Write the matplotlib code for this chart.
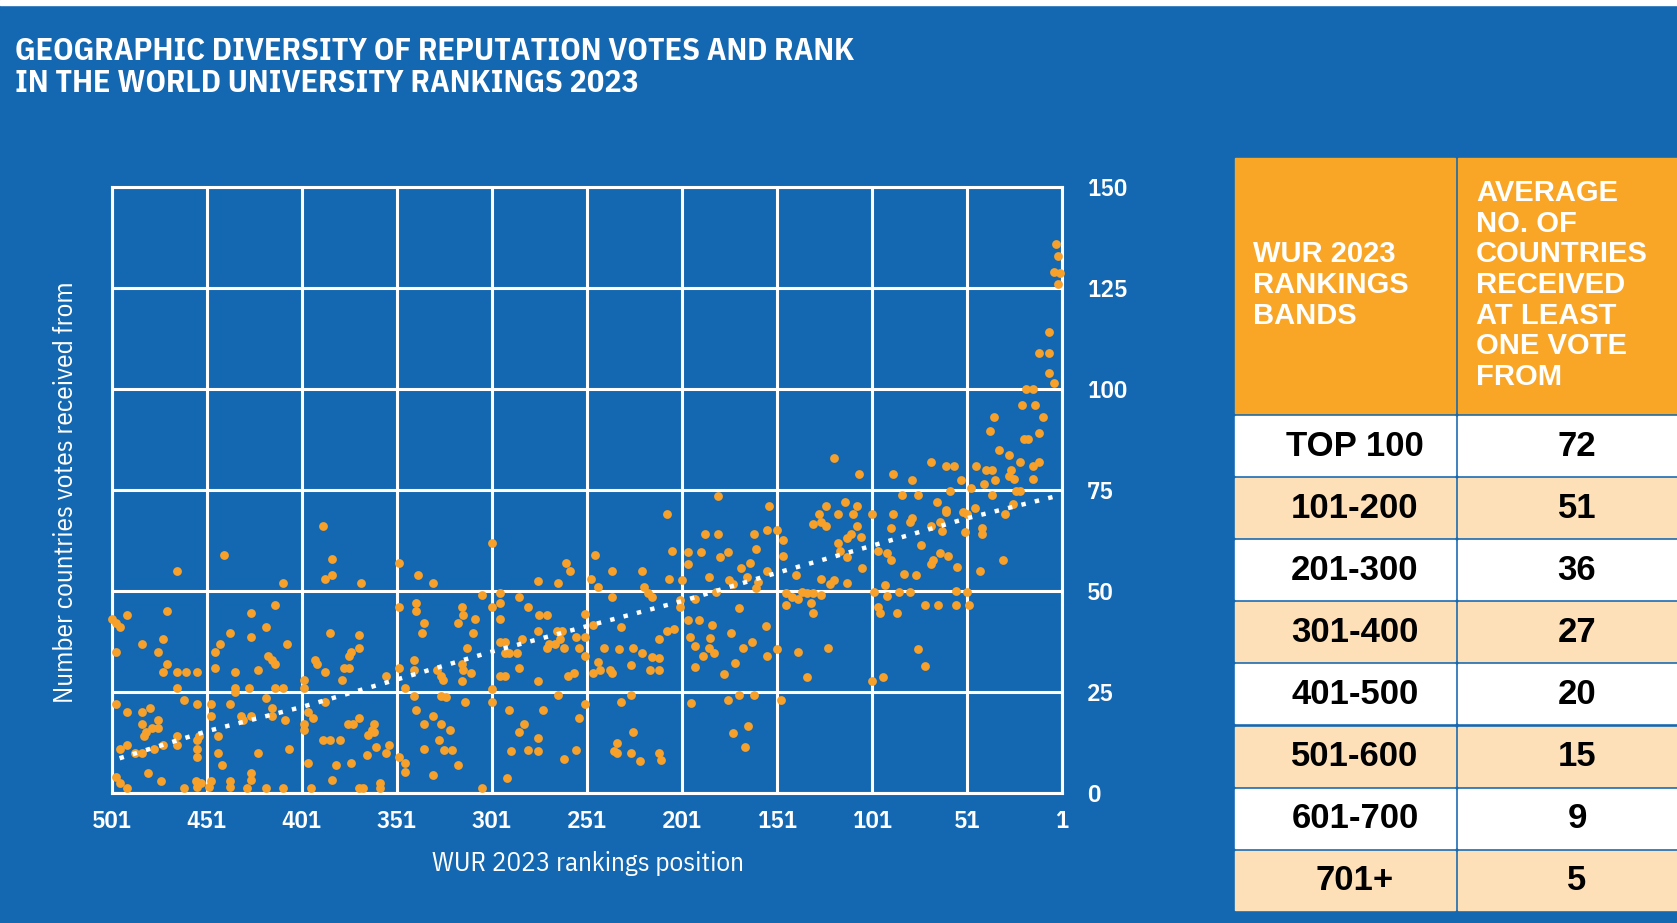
import matplotlib
matplotlib.use('Agg')
import matplotlib.pyplot as plt
from matplotlib import font_manager
from matplotlib.patches import Rectangle

W, H = 1677, 923
BLUE = '#1468b1'
DOT = '#f7a12a'
HEAD = '#f9a626'
PEACH = '#fde0b8'

names = {f.name for f in font_manager.fontManager.ttflist}
NARROW = 'IBM Plex Sans Condensed' if 'IBM Plex Sans Condensed' in names else 'DejaVu Sans'
BOLD = 'Liberation Sans' if 'Liberation Sans' in names else 'DejaVu Sans'

# --- data (rank position, number of countries) ---
rank = [
    467, 442, 411, 501, 499, 497, 493, 472, 485, 474, 477, 499, 472, 474, 467, 462, 456, 467, 463, 456,
    499, 493, 485, 481, 485, 483, 484, 480, 477, 477, 493, 497, 489, 485, 479, 474, 467, 467, 456, 456,
    456, 455, 482, 475, 499, 497, 493, 463, 457, 454, 456, 449, 450, 449, 449, 445, 445, 443, 439, 439,
    439, 436, 436, 436, 433, 432, 428, 429, 428, 428, 430, 424, 424, 420, 420, 417, 417, 419, 417, 415,
    415, 428, 428, 439, 444, 447, 447, 411, 415, 410, 420, 411, 409, 408,
    390, 385, 385, 389, 370, 350, 340, 332, 306, 350, 341, 341, 337, 338, 386, 371, 371, 375, 376, 394,
    393, 379, 376, 389, 380, 357, 350, 342, 342, 347, 342, 330, 328, 327, 317, 316, 319, 310, 311, 314,
    317, 316, 312, 317, 328, 325, 315, 400, 400, 389, 398, 395, 400, 400, 371, 377, 374, 363, 363, 366,
    364, 390, 386, 381, 362, 355, 357, 367, 350, 347, 347, 398, 383, 375, 385, 396, 371, 369, 360, 360,
    341, 337, 332, 328, 323, 329, 326, 322, 337, 319, 332, 306,
    301, 209, 206, 247, 262, 260, 238, 222, 277, 266, 249, 245, 208, 297, 297, 287, 282, 301, 297, 238,
    221, 219, 217, 276, 272, 252, 248, 252, 277, 267, 264, 265, 257, 271, 268, 272, 263, 297, 294, 292,
    288, 294, 285, 255, 252, 242, 234, 233, 227, 222, 217, 213, 213, 209, 213, 205, 228, 245, 244, 239,
    238, 248, 218, 287, 297, 294, 258, 261, 277, 301, 301, 266, 252, 255, 228, 233, 292, 274, 284, 287,
    277, 277, 282, 291, 257, 263, 227, 235, 237, 235, 228, 223, 213, 212, 293,
    121, 108, 182, 155, 125, 115, 109, 119, 111, 129, 128, 132, 125, 109, 189, 182, 163, 156, 151, 148,
    162, 198, 191, 181, 177, 148, 119, 114, 112, 107, 118, 114, 106, 198, 165, 170, 167, 156, 161, 162,
    176, 174, 187, 201, 141, 128, 123, 121, 114, 183, 146, 143, 138, 135, 132, 146, 140, 133, 132, 128,
    202, 194, 202, 171, 198, 192, 185, 157, 197, 194, 186, 187, 175, 164, 169, 190, 184, 173, 156, 151,
    140, 124, 194, 179, 135, 196, 177, 171, 163, 149, 166, 174, 168,
    4, 3, 5, 2, 3, 8, 13, 8, 8, 5, 20, 16, 22, 15, 11, 37, 39, 21, 19, 13,
    34, 29, 23, 16, 13, 70, 62, 58, 46, 41, 38, 28, 29, 26, 36, 42, 16, 54, 49, 90,
    80, 60, 25, 23, 85, 77, 38, 67, 62, 31, 27, 53, 51, 47, 43, 43, 52, 101, 90, 80,
    81, 91, 70, 65, 64, 62, 75, 98, 93, 91, 65, 61, 70, 69, 56, 84, 78, 44, 32, 100,
    94, 93, 87, 81, 57, 51, 98, 97, 88, 73, 66, 57, 50, 77, 73, 101, 95,
]
countries = [
    55, 59, 52, 43, 42, 41, 44, 45, 37, 38, 35, 35, 32, 30, 30, 30, 30, 26, 23, 22,
    22, 20, 20, 21, 17, 15, 14, 16, 18, 16, 12, 11, 10, 10, 11, 12, 14, 12, 13, 11,
    9, 14, 5, 3, 4, 2.5, 1.2, 1.2, 3, 2.5, 1.6, 3, 1.6, 22, 19, 14, 10, 7, 22, 3,
    1.6, 30, 26, 25, 19, 18, 19, 26, 5, 3.3, 1.2, 30.5, 10, 41, 23.5, 21, 19, 34, 33, 32,
    46.5, 44.6, 38.7, 39.5, 37, 35, 31, 26, 26, 18, 1.2, 1.2, 37, 11,
    66, 58, 54, 53, 52, 57, 54, 52, 49, 46, 47, 45, 42, 39.5, 39.5, 39, 36, 35, 34, 33,
    32, 31, 31, 30, 28, 29, 31, 33, 30.5, 26, 24, 30.5, 29, 28, 46, 44, 42, 43, 39.5, 36,
    32, 30.5, 29.6, 27.6, 24, 23.7, 22.6, 28, 26, 22.6, 20, 18.5, 17, 15.6, 18.5, 17, 17, 17, 15, 14.4,
    15.6, 13, 13, 13, 11.5, 12, 10, 9.5, 9, 7.4, 5.3, 7.4, 7, 7.4, 3.3, 1.2, 1.2, 1.2, 2.5, 1.2,
    20.6, 17, 19, 17, 15.6, 13, 10.7, 10.7, 11, 7, 4.5, 1.2,
    62, 69, 60, 59, 57, 55, 55, 55, 52.5, 52, 53, 51, 53, 49.4, 47, 48.6, 46, 46, 43, 48.6,
    51, 49.4, 48.6, 44, 44, 44.4, 41.6, 38.7, 40, 40, 40, 38, 38.7, 37, 37, 36, 36, 37.4, 37.4, 34.6,
    34.6, 34.6, 38, 36, 34, 36, 35.6, 41, 36, 34.6, 33.7, 33.3, 30.5, 40, 38, 40.7, 31.7, 32.5, 30.5, 30.5,
    29.6, 29.6, 30.5, 31, 29, 29, 29.6, 29, 27.6, 25.7, 22.6, 24.3, 22, 18.5, 24.3, 22.6, 20.6, 20.6, 17, 15,
    13.6, 10.3, 10.7, 10.3, 10.7, 8.4, 15, 12.3, 10.3, 10, 10, 8, 10, 8.2, 3.7,
    83, 79, 73.5, 71, 71, 72, 71, 69, 69, 69, 67, 66.6, 66, 66, 64, 64, 64, 65, 65, 62.6,
    60.5, 59.7, 59.7, 58.5, 59.7, 58.6, 62, 63, 64, 63.4, 60, 58.5, 55.6, 56.7, 57, 55.6, 53.5, 55, 52.3, 50.7,
    52.7, 51.7, 53.4, 52.7, 54, 53, 51.7, 52.7, 52, 49.8, 49.4, 48.6, 49.8, 49.4, 49.4, 46.5, 48, 47, 44.5, 49,
    47.8, 48, 46, 45.7, 42.8, 42.8, 41.6, 41.4, 38.7, 36.4, 38.3, 36, 39.7, 37.5, 36, 34, 34.6, 32.3, 33.8, 35.6,
    34.8, 35.8, 31.3, 29.5, 28.7, 22.4, 23, 24.3, 24.3, 23, 16.5, 14.8, 11.5,
    136, 133, 129, 128.6, 126, 114, 109, 109, 104, 101.4, 100, 100, 96, 96, 93, 93, 89.6, 87.7, 87.7, 89,
    85, 83.6, 82, 81, 82, 82, 81, 81, 81, 80, 80, 80, 78.5, 77.8, 77.5, 76.6, 77.7, 77.5, 75.4, 79,
    77.5, 74.7, 74.7, 74.7, 73.8, 73.8, 73.8, 72, 70, 69, 71.5, 69.6, 69, 70.6, 65.5, 64, 64.5, 69, 69, 68,
    67, 65.5, 66, 67, 64.8, 69.6, 61.5, 60, 59.4, 57.6, 59.4, 58.7, 56.6, 57.6, 56, 54.3, 54, 55, 57.6, 49.7,
    51.5, 48.7, 49.7, 49.7, 50, 49.7, 46, 44.6, 44.6, 46.6, 46.6, 46.6, 46.6, 35.7, 31.4, 27.7, 28.8,
]

trend_rank = [497, 451, 401, 351, 301, 251, 201, 151, 101, 51, 3]
trend_val = [8.6, 15.3, 21.3, 28.1, 35.0, 41.3, 47.5, 54.5, 61.2, 68.0, 73.6]

x_ticks = [501, 451, 401, 351, 301, 251, 201, 151, 101, 51, 1]
y_ticks = [0, 25, 50, 75, 100, 125, 150]

bands = ['TOP 100', '101-200', '201-300', '301-400', '401-500', '501-600', '601-700', '701+']
avg_countries = [72, 51, 36, 27, 20, 15, 9, 5]

title_lines = ['GEOGRAPHIC DIVERSITY OF REPUTATION VOTES AND RANK',
               'IN THE WORLD UNIVERSITY RANKINGS 2023']
head_left = 'WUR 2023\nRANKINGS\nBANDS'
head_right = 'AVERAGE\nNO. OF\nCOUNTRIES\nRECEIVED\nAT LEAST\nONE VOTE\nFROM'

fig = plt.figure(figsize=(W / 100, H / 100), dpi=100, facecolor=BLUE)

# scatter chart
ax = fig.add_axes([112 / W, 1 - 793 / H, 950 / W, 606 / H])
ax.set_facecolor(BLUE)
ax.scatter(rank, countries, s=40, color=DOT, linewidths=0, clip_on=False, zorder=3)
ax.plot(trend_rank, trend_val, color='white', lw=3.2, linestyle=(0, (1, 2.1)),
        dash_capstyle='butt', zorder=4)
ax.set_xlim(501, 1)
ax.set_ylim(0, 150)
ax.set_xticks(x_ticks)
ax.set_yticks(y_ticks)
ax.grid(True, color='white', lw=2.2)
ax.set_axisbelow(True)
for sp in ax.spines.values():
    sp.set_color('white')
    sp.set_linewidth(2.2)
ax.yaxis.tick_right()
ax.tick_params(length=0, colors='white', labelsize=18)
ax.tick_params(axis='x', pad=12)
ax.tick_params(axis='y', pad=18)
for lab in ax.get_xticklabels() + ax.get_yticklabels():
    lab.set_fontfamily(NARROW)
    lab.set_fontweight('semibold')

# overlay in pixel coordinates for texts and table
ov = fig.add_axes([0, 0, 1, 1])
ov.set_xlim(0, W)
ov.set_ylim(H, 0)
ov.axis('off')
ov.add_patch(Rectangle((0, 0), W, 5, color='white'))

for line, ty in zip(title_lines, [51, 83]):
    ov.text(15, ty, line, color='white', fontsize=23, fontweight='bold', family=NARROW,
            va='center', ha='left')
ov.text(588, 864, 'WUR 2023 rankings position', color='white', fontsize=19.5,
        family=NARROW, ha='center', va='center')
ov.text(66, 492, 'Number countries votes received from', color='white', fontsize=19.5,
        family=NARROW, ha='center', va='center', rotation=90)

# table
c1, c2 = 1235, 1458
cw1, cw2 = 220, 219
ov.add_patch(Rectangle((c1, 158), cw1, 255, color=HEAD))
ov.add_patch(Rectangle((c2, 158), cw2, 255, color=HEAD))
ov.text(1253, 285, head_left, color='white', fontsize=21, fontweight='bold', family=BOLD,
        ha='left', va='center', linespacing=1.12)
ov.text(1476, 285, head_right, color='white', fontsize=21, fontweight='bold', family=BOLD,
        ha='left', va='center', linespacing=1.12)
for i, (band, val) in enumerate(zip(bands, avg_countries)):
    top = 416 + i * 62.1
    fc = 'white' if i % 2 == 0 else PEACH
    ov.add_patch(Rectangle((c1, top), cw1, 59, color=fc))
    ov.add_patch(Rectangle((c2, top), cw2, 59, color=fc))
    ov.text(1355, top + 30, band, color='black', fontsize=25, fontweight='bold',
            family=BOLD, ha='center', va='center')
    ov.text(1577, top + 30, str(val), color='black', fontsize=25, fontweight='bold',
            family=BOLD, ha='center', va='center')

fig.savefig('out.png', dpi=100, facecolor=BLUE)
